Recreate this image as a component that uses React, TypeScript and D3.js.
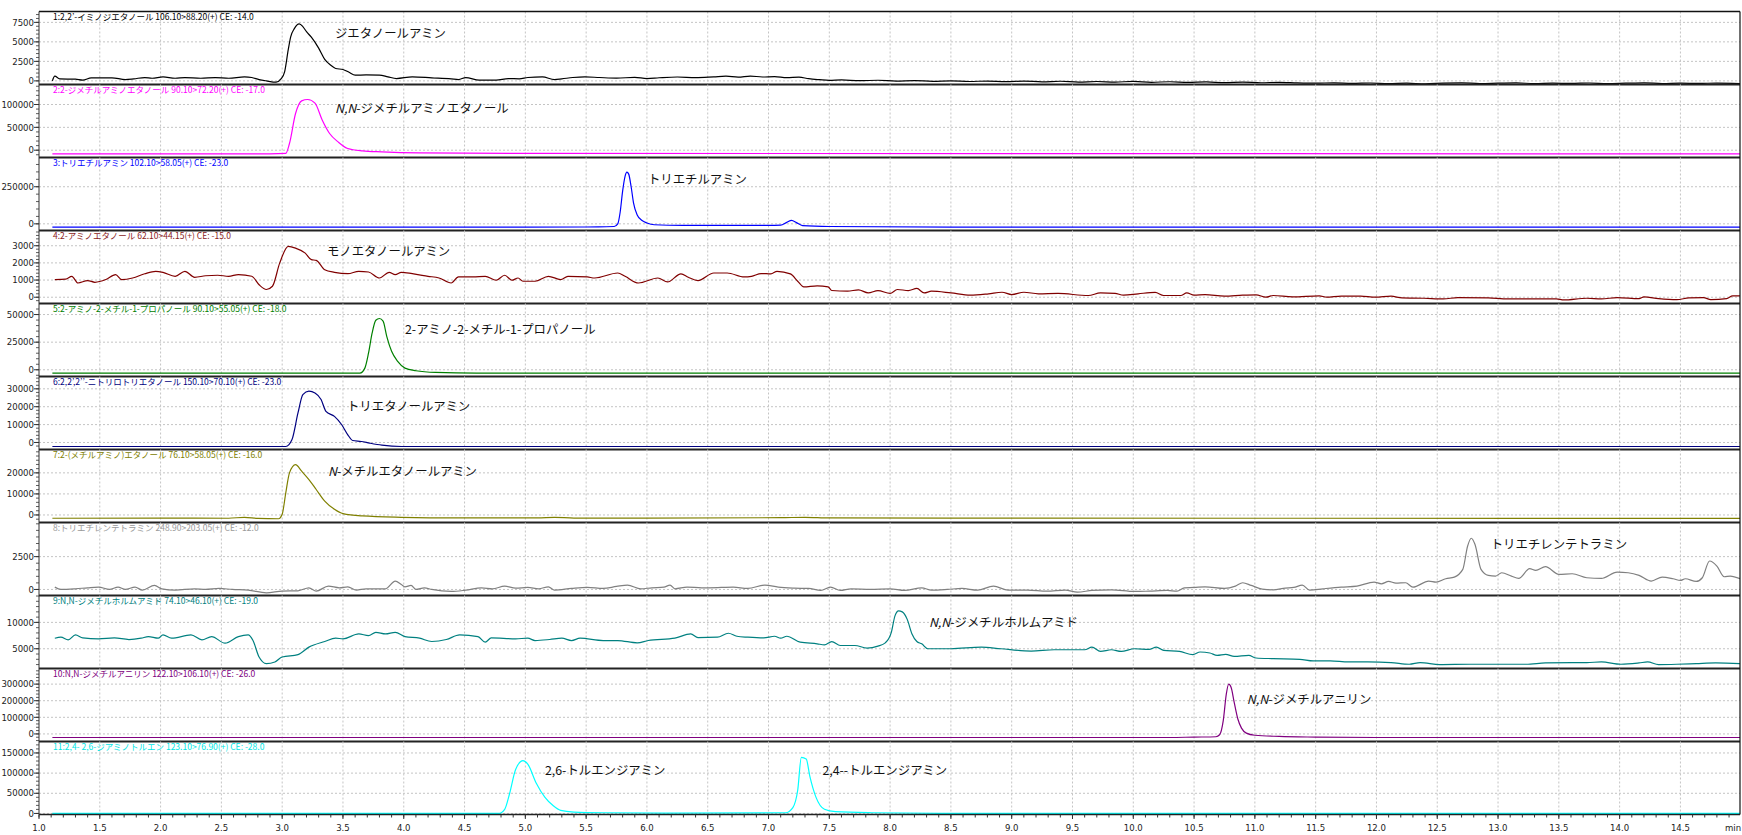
import React from 'react';
import * as d3 from 'd3';

// Stacked MRM chromatograms (11 transitions), one panel per compound.

type Pt = [number, number];

const W = 1742;
const H = 835;
const LEFT = 39;
const RIGHT = 1740;
const TOP = 11.5;
const PANEL_H = 73;
const X_DOMAIN: [number, number] = [1.0, 14.99];

const X_TICKS = [1.0, 1.5, 2.0, 2.5, 3.0, 3.5, 4.0, 4.5, 5.0, 5.5, 6.0, 6.5, 7.0, 7.5, 8.0, 8.5, 9.0, 9.5, 10.0, 10.5, 11.0, 11.5, 12.0, 12.5, 13.0, 13.5, 14.0, 14.5];

const TITLES = [
  '1:2,2’-イミノジエタノール 106.10>88.20(+) CE: -14.0',
  '2:2-ジメチルアミノエタノール 90.10>72.20(+) CE: -17.0',
  '3:トリエチルアミン 102.10>58.05(+) CE: -23.0',
  '4:2-アミノエタノール 62.10>44.15(+) CE: -15.0',
  '5:2-アミノ-2-メチル-1-プロパノール 90.10>55.05(+) CE: -18.0',
  '6:2,2’,2’’-ニトリロトリエタノール 150.10>70.10(+) CE: -23.0',
  '7:2-(メチルアミノ)エタノール 76.10>58.05(+) CE: -16.0',
  '8:トリエチレンテトラミン 248.90>203.05(+) CE: -12.0',
  '9:N,N-ジメチルホルムアミド 74.10>46.10(+) CE: -19.0',
  '10:N,N-ジメチルアニリン 122.10>106.10(+) CE: -26.0',
  '11:2,4- 2,6-ジアミノトルエン 123.10>76.90(+) CE: -28.0',
];

const COLORS = ['#000000', '#ff00ff', '#0000ff', '#800000', '#008000', '#000080', '#808000', '#808080', '#008080', '#800080', '#00ffff'];
const TITLE_COLORS = ['#000000', '#ff00ff', '#0000ff', '#8b1a1a', '#008000', '#000080', '#808000', '#999999', '#008080', '#800080', '#00e5e5'];

const Y_DOMAINS: [number, number][] = [
  [-464, 8892],
  [-16000, 143800],
  [-44900, 447000],
  [-366, 3888],
  [-6090, 60000],
  [-3930, 36900],
  [-3580, 31100],
  [-460, 5100],
  [1255, 15100],
  [-45600, 394000],
  [-2600, 178400],
];

const Y_TICKS = [
  [0, 2500, 5000, 7500],
  [0, 50000, 100000],
  [0, 250000],
  [0, 1000, 2000, 3000],
  [0, 25000, 50000],
  [0, 10000, 20000, 30000],
  [0, 10000, 20000],
  [0, 2500],
  [5000, 10000],
  [0, 100000, 200000, 300000],
  [0, 50000, 100000, 150000],
];

const Y_MINOR = [500, 10000, 50000, 200, 5000, 2000, 2000, 500, 1000, 20000, 10000];

// compound name annotations: [panel, time, intensity, italic prefix, rest]
const NAMES: [number, number, number, string, string][] = [
  [0, 3.434, 6130, '', 'ジエタノールアミン'],
  [1, 3.434, 92000, 'N,N', '-ジメチルアミノエタノール'],
  [2, 6.008, 300000, '', 'トリエチルアミン'],
  [3, 3.368, 2675, '', 'モノエタノールアミン'],
  [4, 4.01, 36500, '', '2-アミノ-2-メチル-1-プロパノール'],
  [5, 3.533, 20080, '', 'トリエタノールアミン'],
  [6, 3.377, 20730, 'N', '-メチルエタノールアミン'],
  [7, 12.94, 3400, '', 'トリエチレンテトラミン'],
  [8, 8.319, 9977, 'N,N', '-ジメチルホルムアミド'],
  [9, 10.934, 204500, 'N,N', '-ジメチルアニリン'],
  [10, 5.161, 107600, '', '2,6-トルエンジアミン'],
  [10, 7.443, 107600, '', '2,4--トルエンジアミン'],
];

const SERIES_1: Pt[] = [
  [1.11, 0], [1.13, 600], [1.17, 260], [1.3, 215], [1.36, 90], [1.43, 390], [1.6, 390], [1.71, 170], [1.78, 260], [1.87, 430],
  [1.93, 340], [2.02, 515], [2.12, 340], [2.2, 430], [2.33, 340], [2.45, 430], [2.56, 340], [2.69, 515], [2.75, 430], [2.81, 170],
  [2.87, 0], [2.95, -170], [2.99, 250], [3.02, 1160], [3.05, 4000], [3.07, 5650], [3.1, 6700], [3.14, 7300], [3.17, 6960], [3.2, 6300],
  [3.24, 5600], [3.3, 4200], [3.35, 2760], [3.4, 2000], [3.44, 1590], [3.5, 1460], [3.55, 1100], [3.6, 730], [3.69, 770], [3.8, 730],
  [3.87, 515], [3.94, 300], [4.07, 515], [4.23, 390], [4.39, 260], [4.45, 170], [4.51, 430], [4.62, 90], [4.76, 90], [4.86, 300],
  [4.95, 260], [5.02, 430], [5.14, 515], [5.24, 170], [5.3, 260], [5.39, 430], [5.49, 515], [5.61, 430], [5.75, 350], [5.9, 450],
  [6.0, 300], [6.1, 400], [6.25, 500], [6.4, 420], [6.55, 520], [6.65, 600], [6.75, 480], [6.85, 620], [6.95, 500], [7.05, 550],
  [7.15, 420], [7.25, 480], [7.33, 280], [7.42, 150], [7.5, 60], [7.6, 120], [7.75, 20], [7.9, 80], [8.05, -30], [8.2, 40],
  [8.35, -60], [8.5, 10], [8.65, -80], [8.8, -20], [8.95, -100], [9.1, -30], [9.25, -120], [9.4, -50], [9.55, -150], [9.7, -80],
  [9.85, -160], [10.0, -60], [10.15, -180], [10.3, -110], [10.45, -200], [10.6, -140], [10.75, -220], [10.9, -150], [11.05, -240], [11.2, -180],
  [11.35, -260], [11.5, -300], [11.65, -250], [11.8, -330], [11.95, -270], [12.1, -350], [12.25, -300], [12.4, -380], [12.55, -290], [12.7, -260],
  [12.85, -340], [13.0, -300], [13.15, -260], [13.3, -350], [13.45, -290], [13.6, -330], [13.75, -270], [13.9, -360], [14.05, -300], [14.2, -250],
  [14.35, -340], [14.5, -290], [14.65, -330], [14.8, -280], [14.99, -340],
];

const SERIES_2: Pt[] = [
  [1.11, -8000], [2.9, -8000], [3.03, -7000], [3.06, 14600], [3.11, 80300], [3.16, 108000], [3.21, 111000], [3.27, 103000],
  [3.33, 65600], [3.39, 36500], [3.46, 18200], [3.54, 3700], [3.66, -1400], [3.82, -3600], [4.13, -5800], [5.0, -7000], [14.99, -8000],
];

const SERIES_3: Pt[] = [
  [1.11, -22000], [5.0, -22000], [5.6, -21000], [5.73, -18000], [5.76, 0], [5.78, 80000], [5.8, 220000], [5.82, 320000],
  [5.835, 348000], [5.85, 335000], [5.87, 250000], [5.89, 140000], [5.92, 60000], [5.96, 22000], [6.0, 6000], [6.06, -6000],
  [6.3, -10000], [7.0, -11000], [7.1, -9000], [7.15, 10000], [7.19, 24000], [7.23, 8000], [7.28, -12000], [7.5, -18000],
  [8.5, -22000], [14.99, -22000],
];

const SERIES_4: Pt[] = [
  [1.13, 1030], [1.22, 1060], [1.27, 1220], [1.32, 830], [1.4, 970], [1.46, 870], [1.55, 1030], [1.63, 1320], [1.68, 1030], [1.77, 1120],
  [1.87, 1370], [1.96, 1510], [2.02, 1450], [2.12, 1220], [2.2, 1510], [2.28, 1160], [2.37, 1250], [2.47, 1280], [2.56, 1220], [2.64, 1320],
  [2.75, 1220], [2.81, 730], [2.87, 450], [2.92, 640], [2.98, 2000], [3.05, 2960], [3.11, 2860], [3.19, 2570], [3.24, 2190], [3.28, 2150],
  [3.35, 1600], [3.43, 1450], [3.54, 1370], [3.63, 1510], [3.71, 1470], [3.8, 1120], [3.88, 1450], [3.93, 1320], [3.98, 1450], [4.07, 1370],
  [4.2, 1220], [4.29, 1120], [4.39, 830], [4.45, 1180], [4.57, 1180], [4.67, 1220], [4.76, 990], [4.83, 1280], [4.89, 990], [4.94, 1120],
  [4.98, 930], [5.08, 930], [5.19, 1220], [5.29, 1030], [5.35, 1220], [5.51, 1180], [5.57, 1120], [5.76, 1410], [5.82, 1220], [5.93, 830],
  [6.09, 1120], [6.17, 890], [6.28, 1360], [6.34, 1160], [6.42, 970], [6.55, 1410], [6.66, 1410], [6.8, 1180], [6.86, 1220], [6.94, 1380],
  [7.02, 1360], [7.07, 1510], [7.18, 1360], [7.24, 930], [7.29, 600], [7.4, 660], [7.49, 600], [7.52, 390], [7.65, 350], [7.74, 430],
  [7.82, 250], [7.9, 390], [8.0, 220], [8.06, 450], [8.15, 390], [8.22, 510], [8.28, 250], [8.34, 350], [8.5, 250], [8.66, 120],
  [8.81, 200], [8.92, 290], [9.0, 155], [9.1, 290], [9.22, 200], [9.38, 220], [9.63, 100], [9.73, 250], [9.85, 220], [9.92, 120],
  [10.04, 200], [10.18, 280], [10.25, 100], [10.39, 100], [10.44, 250], [10.5, 120], [10.59, 155], [10.75, 60], [10.9, 120], [11.01, 140],
  [11.09, 0], [11.15, 100], [11.31, 20], [11.53, 80], [11.59, 0], [11.71, 60], [11.87, 60], [11.99, 0], [12.12, 60], [12.21, -40],
  [12.39, -60], [12.55, -100], [12.67, -20], [12.92, -40], [13.08, -100], [13.23, -100], [13.48, -100], [13.54, -160], [13.73, -60], [13.85, -100],
  [13.98, -20], [14.16, -80], [14.2, 20], [14.32, -80], [14.47, -140], [14.57, -40], [14.69, -20], [14.75, -140], [14.88, -80], [14.93, 80],
  [14.99, 80],
];

const SERIES_5: Pt[] = [
  [1.11, -3000], [3.64, -3000], [3.68, 1500], [3.71, 15000], [3.74, 33300], [3.77, 44800], [3.8, 46400], [3.83, 44000],
  [3.86, 30300], [3.9, 16700], [3.95, 7600], [4.01, 1500], [4.1, -900], [4.26, -2400], [4.6, -3000], [14.99, -3000],
];

const SERIES_6: Pt[] = [
  [1.11, -2250], [3.03, -2250], [3.08, 1500], [3.13, 16500], [3.17, 26800], [3.22, 28700], [3.27, 27700], [3.32, 24000],
  [3.36, 17400], [3.43, 14600], [3.49, 9900], [3.54, 4300], [3.58, 1100], [3.65, 560], [3.72, -370], [3.82, -1500],
  [3.98, -2250], [14.99, -2250],
];

const SERIES_7: Pt[] = [
  [1.11, -1560], [2.0, -1500], [2.56, -1560], [2.69, -1100], [2.8, -1600], [2.97, -1800], [3.0, 350], [3.03, 10600],
  [3.06, 20000], [3.11, 23900], [3.16, 20800], [3.22, 16800], [3.28, 12100], [3.35, 6600], [3.43, 2700], [3.5, 640],
  [3.66, -470], [3.98, -1100], [4.45, -1400], [5.1, -1400], [5.24, -1100], [5.4, -1500], [6.0, -1500], [7.1, -1300],
  [7.3, -1100], [7.5, -1400], [8.5, -1500], [14.99, -1600],
];

const SERIES_8: Pt[] = [
  [1.13, 178], [1.18, 0], [1.3, 51], [1.4, 127], [1.49, 178], [1.58, 0], [1.65, 178], [1.71, 0], [1.79, 178], [1.85, -51],
  [1.95, 306], [2.01, 51], [2.12, -51], [2.28, 51], [2.37, 0], [2.48, 76], [2.59, 0], [2.72, -51], [2.87, -255], [3.0, -127],
  [3.13, -102], [3.22, 127], [3.28, -127], [3.38, 255], [3.47, 127], [3.54, 204], [3.61, -51], [3.69, 51], [3.85, 51], [3.93, 637],
  [3.98, 382], [4.01, 204], [4.06, 306], [4.1, 0], [4.17, 127], [4.23, 0], [4.39, -153], [4.51, -51], [4.64, 127], [4.73, 51],
  [4.83, 255], [4.92, 102], [5.02, 153], [5.11, 51], [5.19, 204], [5.24, -51], [5.38, 76], [5.51, 153], [5.64, 76], [5.75, 229],
  [5.84, 331], [5.95, 51], [6.04, 127], [6.14, 178], [6.19, 331], [6.23, 51], [6.33, 178], [6.45, 127], [6.61, 153], [6.71, 178],
  [6.83, 76], [6.97, 331], [7.08, 178], [7.21, 102], [7.33, 76], [7.43, -76], [7.51, 178], [7.59, -76], [7.68, 51], [7.84, 0],
  [8.0, 51], [8.12, -76], [8.26, 127], [8.34, -51], [8.47, 0], [8.59, 76], [8.72, -51], [8.85, 255], [8.97, -51], [9.13, -51],
  [9.29, -127], [9.44, -51], [9.54, -204], [9.66, -76], [9.82, -25], [10.01, -153], [10.13, -127], [10.28, -76], [10.36, -127], [10.42, 127],
  [10.5, 153], [10.59, 204], [10.75, 76], [10.84, 255], [10.9, 510], [10.97, 306], [11.06, 25], [11.15, -25], [11.25, 102], [11.32, 153],
  [11.39, 331], [11.45, -51], [11.56, 51], [11.71, 178], [11.84, 255], [11.98, 560], [12.04, 433], [12.1, 611], [12.16, 484], [12.24, 510],
  [12.3, 178], [12.43, 637], [12.49, 560], [12.57, 815], [12.64, 942], [12.71, 1529], [12.75, 3313], [12.78, 3900], [12.81, 3440], [12.86, 1529],
  [12.92, 1070], [12.98, 1020], [13.03, 1274], [13.11, 1020], [13.17, 840], [13.26, 1580], [13.31, 1453], [13.39, 1733], [13.5, 1147], [13.61, 1198],
  [13.73, 892], [13.85, 840], [13.98, 1325], [14.07, 1274], [14.16, 1070], [14.26, 637], [14.35, 942], [14.44, 815], [14.5, 688], [14.54, 815],
  [14.63, 611], [14.68, 892], [14.74, 2166], [14.8, 1784], [14.86, 968], [14.91, 1020], [14.99, 815],
];

const SERIES_9: Pt[] = [
  [1.13, 7000], [1.18, 7190], [1.24, 6690], [1.3, 7630], [1.36, 7060], [1.49, 6880], [1.62, 7060], [1.74, 6750], [1.84, 7000], [1.9, 7310],
  [1.98, 7000], [2.02, 7630], [2.09, 7000], [2.25, 7630], [2.34, 6690], [2.42, 7310], [2.53, 6060], [2.64, 7310], [2.72, 7630], [2.76, 6560],
  [2.81, 3440], [2.87, 2190], [2.94, 2500], [3.0, 3440], [3.13, 3880], [3.22, 5310], [3.35, 6380], [3.44, 7000], [3.5, 6880], [3.63, 7810],
  [3.71, 7500], [3.77, 8120], [3.85, 7810], [3.93, 8120], [4.01, 7310], [4.13, 7000], [4.23, 6380], [4.35, 6750], [4.46, 7630], [4.61, 7310],
  [4.67, 6250], [4.72, 7060], [4.92, 6880], [5.02, 7000], [5.08, 6560], [5.2, 6750], [5.3, 7000], [5.38, 6560], [5.45, 7000], [5.64, 6560],
  [5.76, 6560], [5.92, 6120], [6.01, 6560], [6.23, 7000], [6.36, 7810], [6.42, 7120], [6.58, 7190], [6.67, 7940], [6.74, 7370], [6.83, 7190],
  [6.96, 7060], [7.05, 7370], [7.1, 7000], [7.15, 7370], [7.26, 6250], [7.4, 5940], [7.46, 5750], [7.52, 6370], [7.59, 5620], [7.71, 5620],
  [7.81, 5120], [7.9, 5500], [7.96, 6120], [8.01, 8120], [8.04, 11240], [8.07, 12180], [8.1, 12000], [8.14, 10620], [8.18, 7810], [8.22, 6370],
  [8.26, 5940], [8.31, 5000], [8.5, 5000], [8.75, 5310], [8.91, 5000], [9.16, 4560], [9.35, 4810], [9.6, 4810], [9.66, 5310], [9.73, 4500],
  [9.82, 4810], [9.9, 4500], [10.01, 5000], [10.13, 4870], [10.19, 5310], [10.25, 4690], [10.38, 4500], [10.49, 3880], [10.55, 4380], [10.63, 4190],
  [10.69, 3750], [10.76, 3940], [10.83, 3560], [10.95, 3750], [11.01, 3250], [11.15, 3130], [11.37, 3000], [11.48, 2690], [11.62, 2690], [11.77, 2500],
  [11.93, 2500], [12.12, 2380], [12.27, 2060], [12.36, 2380], [12.52, 2000], [12.77, 2060], [12.98, 2060], [13.23, 2060], [13.39, 2310], [13.61, 2380],
  [13.73, 2380], [13.85, 2500], [14.01, 2060], [14.16, 2310], [14.23, 2500], [14.32, 2000], [14.47, 2060], [14.63, 2190], [14.79, 2310], [14.99, 2190],
];

const SERIES_10: Pt[] = [
  [1.11, -21600], [10.3, -21600], [10.5, -19000], [10.68, -17000], [10.71, -5000], [10.74, 80000], [10.765, 240000],
  [10.785, 300000], [10.805, 280000], [10.83, 190000], [10.86, 90000], [10.89, 35000], [10.93, 5000], [11.0, -8000],
  [11.2, -15000], [11.5, -19000], [12.0, -21600], [14.99, -21600],
];

const SERIES_11: Pt[] = [
  [1.11, 0], [4.78, 0], [4.83, 10300], [4.87, 48900], [4.92, 109000], [4.98, 130800], [5.02, 122200], [5.09, 74900],
  [5.16, 40400], [5.23, 18900], [5.29, 7700], [5.4, 3400], [5.64, 1700], [6.15, 860], [7.14, 1700], [7.2, 14600],
  [7.24, 57600], [7.27, 139000], [7.31, 135000], [7.34, 91800], [7.39, 40400], [7.46, 10300], [7.55, 4300], [7.85, 1700],
  [8.53, 0], [14.99, 0],
];

const SERIES = [SERIES_1, SERIES_2, SERIES_3, SERIES_4, SERIES_5, SERIES_6, SERIES_7, SERIES_8, SERIES_9, SERIES_10, SERIES_11];

const TICK_FONT = '"Liberation Sans Narrow", "DejaVu Sans Condensed", sans-serif';
const JP_FONT = '"Noto Sans CJK JP", "Noto Sans", sans-serif';

const x = d3.scaleLinear().domain(X_DOMAIN).range([LEFT, RIGHT]);

function Panel({ i }: { i: number }) {
  const top = TOP + i * PANEL_H;
  const bottom = top + PANEL_H;
  const y = d3.scaleLinear().domain(Y_DOMAINS[i]).range([bottom, top]);
  const line = d3
    .line<Pt>()
    .x((d) => x(d[0]))
    .y((d) => y(d[1]))
    .curve(d3.curveMonotoneX);
  const [lo, hi] = Y_DOMAINS[i];
  const minor = d3.range(Math.ceil(lo / Y_MINOR[i]) * Y_MINOR[i], hi, Y_MINOR[i]);
  const clipId = `clip-${i}`;
  return (
    <g>
      <clipPath id={clipId}>
        <rect x={LEFT} y={top} width={RIGHT - LEFT} height={PANEL_H} />
      </clipPath>
      {/* grid */}
      {X_TICKS.slice(1).map((t) => (
        <line key={`vx${t}`} x1={x(t)} x2={x(t)} y1={top} y2={bottom} stroke="#c4c4c4" strokeDasharray="2,2" strokeWidth={1} />
      ))}
      {Y_TICKS[i].map((v) => (
        <line key={`hy${v}`} x1={LEFT} x2={RIGHT} y1={y(v)} y2={y(v)} stroke="#c4c4c4" strokeDasharray="2,2" strokeWidth={1} />
      ))}
      {/* y axis */}
      {minor.map((v) => (
        <line key={`mn${v}`} x1={LEFT - 3} x2={LEFT} y1={y(v)} y2={y(v)} stroke="#333" strokeWidth={0.8} />
      ))}
      {Y_TICKS[i].map((v) => (
        <g key={`yt${v}`}>
          <line x1={LEFT - 5} x2={LEFT} y1={y(v)} y2={y(v)} stroke="#333" strokeWidth={1} />
          <text x={LEFT - 5} y={y(v) + 3.2} textAnchor="end" fontFamily={TICK_FONT} fontSize={9.5} fill="#222">
            {v}
          </text>
        </g>
      ))}
      {/* title */}
      <text x={53} y={top + 8.8} fontFamily={JP_FONT} fontSize={8.5} fill={TITLE_COLORS[i]}>
        {TITLES[i]}
      </text>
      {/* trace */}
      <path d={line(SERIES[i]) ?? ''} fill="none" stroke={COLORS[i]} strokeWidth={1.2} clipPath={`url(#${clipId})`} />
      {/* separator */}
      {i < 10 && <line x1={LEFT} x2={RIGHT} y1={bottom} y2={bottom} stroke="#222" strokeWidth={2.2} />}
    </g>
  );
}

export default function App() {
  const bottom = TOP + 11 * PANEL_H;
  const minorX = d3.range(1.0, 14.95, 0.1);
  return (
    <svg width={W} height={H} viewBox={`0 0 ${W} ${H}`} style={{ position: 'absolute', left: 0, top: 0, background: '#fff' }}>
      <rect x={0} y={0} width={W} height={H} fill="#fff" />
      {SERIES.map((_, i) => (
        <Panel key={i} i={i} />
      ))}
      {/* frame */}
      <line x1={LEFT} x2={RIGHT} y1={TOP} y2={TOP} stroke="#111" strokeWidth={1.5} />
      <line x1={LEFT} x2={LEFT} y1={TOP} y2={bottom} stroke="#333" strokeWidth={1} />
      <line x1={RIGHT} x2={RIGHT} y1={TOP} y2={bottom} stroke="#111" strokeWidth={1.2} />
      <line x1={LEFT} x2={RIGHT} y1={bottom} y2={bottom} stroke="#222" strokeWidth={1.5} />
      {/* x axis */}
      {minorX.map((t) => (
        <line key={`xm${t.toFixed(1)}`} x1={x(t)} x2={x(t)} y1={bottom} y2={bottom + 3} stroke="#333" strokeWidth={1} />
      ))}
      {X_TICKS.map((t) => (
        <g key={`xt${t}`}>
          <line x1={x(t)} x2={x(t)} y1={bottom} y2={bottom + 4.5} stroke="#333" strokeWidth={1} />
          <text x={x(t)} y={bottom + 16} textAnchor="middle" fontFamily={TICK_FONT} fontSize={9.5} fill="#222">
            {t.toFixed(1)}
          </text>
        </g>
      ))}
      <text x={1733} y={bottom + 16} textAnchor="middle" fontFamily={TICK_FONT} fontSize={9.5} fill="#222">
        min
      </text>
      {/* compound names */}
      {NAMES.map(([p, t, v, it, rest], k) => {
        const top = TOP + p * PANEL_H;
        const y = d3.scaleLinear().domain(Y_DOMAINS[p]).range([top + PANEL_H, top]);
        return (
          <text key={`nm${k}`} x={x(t)} y={y(v) + 4.5} fontFamily={JP_FONT} fontSize={12.4} fill="#111">
            {it && <tspan fontStyle="italic">{it}</tspan>}
            {rest}
          </text>
        );
      })}
    </svg>
  );
}
